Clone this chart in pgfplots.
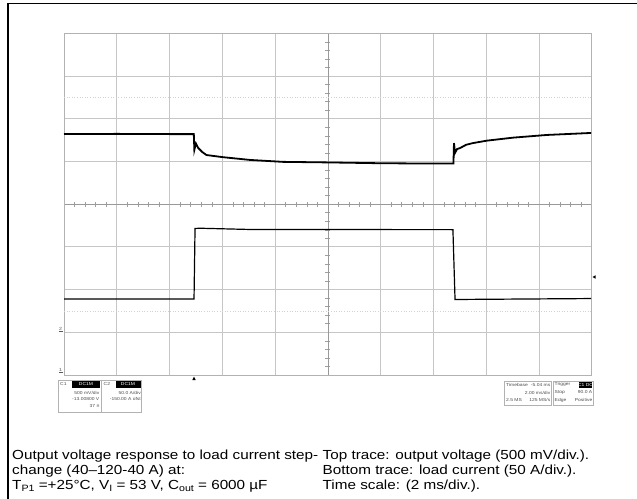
\documentclass[border=0pt]{standalone}
\usepackage{pgfplots}
\pgfplotsset{compat=1.18}
\usepackage{fontspec}
\setmainfont{Liberation Sans}[FakeStretch=1.16]
\newcommand\sub[1]{\raisebox{-0.35ex}{\fontsize{9.2}{9.2}\selectfont #1}}
\begin{document}
\begin{tikzpicture}
\begin{scope}[x=1bp,y=-1bp]
  \useasboundingbox (0,0) rectangle (637,499);
  % page frame
  \draw[line width=1.2bp] (8,499) -- (8,3.3) -- (637,3.3);
\end{scope}

\begin{axis}[
  at={(64bp,-375bp)}, anchor=south west,
  width=527.7bp, height=341.7bp, scale only axis,
  xmin=-5, xmax=5, ymin=-4, ymax=4,
  axis lines=center,
  axis line style={-, gray!80, line width=0.6bp},
  xtick={-5,...,5}, ytick={-4,...,4},
  minor x tick num=4, minor y tick num=4,
  xticklabels={}, yticklabels={},
  tick align=center,
  major tick length=0pt, minor tick length=5bp,
  minor tick style={gray!75, line width=0.5bp},
  grid=major,
  major grid style={gray!45, line width=0.8bp},
  clip=false,
]
  % outer graticule border
  \draw[gray!60, line width=0.9bp] (axis cs:-5,-4) rectangle (axis cs:5,4);
  % faint dotted rows
  \draw[gray!35, dotted, line width=0.6bp] (axis cs:-5,2.49) -- (axis cs:5,2.49);
  \draw[gray!35, dotted, line width=0.6bp] (axis cs:-5,-2.52) -- (axis cs:5,-2.52);

  % top trace: output voltage
  \addplot[black, line width=1.8bp] coordinates {
    (-5,1.64) (-4,1.645) (-3,1.64) (-2.54,1.64)
    (-2.53,1.27) (-2.50,1.42) (-2.46,1.32) (-2.38,1.22) (-2.30,1.15)
    (-1.99,1.10) (-1.475,1.035) (-0.85,0.99) (0,0.977) (0.99,0.958)
    (1.99,0.95) (2.38,0.95)
    (2.39,1.43) (2.41,1.20) (2.447,1.29) (2.50,1.31) (2.62,1.39)
    (2.75,1.43) (3.016,1.487) (3.51,1.557) (4.15,1.62) (4.99,1.667)
  };
  % bottom trace: load current
  \addplot[black, line width=1.2bp] coordinates {
    (-5,-2.22) (-2.536,-2.22) (-2.517,-0.569) (-2.42,-0.564)
    (-1.475,-0.593) (2.37,-0.597) (2.41,-2.232) (4.99,-2.21)
  };
\end{axis}

\begin{scope}[x=1bp,y=-1bp]
  % markers
  \fill (194,376.5) -- (192.3,380) -- (195.7,380) -- cycle;
  \fill (592.5,277) -- (595.5,275.3) -- (595.5,278.7) -- cycle;
  \node[font=\fontsize{4.5}{4.5}\selectfont, gray!70!black, inner sep=0] at (60.5,329) {2};
  \draw[gray!70!black, line width=0.8bp] (59,331.5) -- (63,331.5);
  \node[font=\fontsize{4.5}{4.5}\selectfont, gray!70!black, inner sep=0] at (60.5,370) {1};
  \draw[gray!70!black, line width=0.8bp] (59,372.5) -- (63,372.5);

  % left info boxes
  \begin{scope}[every node/.style={font=\fontsize{4.3}{4.3}\selectfont, inner sep=0, text=gray!60!black}]
    \draw[gray!60, line width=0.5bp] (58.3,380) rectangle (101,412.7);
    \draw[gray!60, line width=0.5bp] (101.7,380) rectangle (141.7,412.7);
    \fill[black] (72,381.3) rectangle (100,387.6);
    \fill[black] (116,381.3) rectangle (140.5,387.6);
    \node[anchor=west] at (60,384.5) {C1};
    \node[anchor=west] at (103.5,384.5) {C2};
    \node[text=white] at (86,384.5) {DC1M};
    \node[text=white] at (128,384.5) {DC1M};
    \node[anchor=east] at (99.5,392.7) {500 mV/div};
    \node[anchor=east] at (99.5,399.2) {-13.00800 V};
    \node[anchor=east] at (99.5,405.7) {37 \#};
    \node[anchor=east] at (141,392.7) {50.0 A/div};
    \node[anchor=east] at (141,399.2) {-150.00 A ofst};

    % right info boxes
    \draw[gray!60, line width=0.5bp] (504.5,381) rectangle (551.6,405);
    \draw[gray!60, line width=0.5bp] (553.2,381) rectangle (593.3,405);
    \fill[black] (579,382) rectangle (592.3,387.8);
    \node[anchor=west] at (506,384.8) {Timebase};
    \node[anchor=east] at (550.5,384.8) {-5.04 ms};
    \node[anchor=east] at (550.5,392.5) {2.00 ms/div};
    \node[anchor=west] at (506,400.3) {2.5 MS};
    \node[anchor=east] at (550.5,400.3) {125 MS/s};
    \node[anchor=west] at (554.5,384.8) {Trigger};
    \node[text=white] at (585.6,384.8) {C1 DC};
    \node[anchor=west] at (554.5,392.5) {Stop};
    \node[anchor=east] at (592.5,392.5) {90.0 A};
    \node[anchor=west] at (554.5,400.3) {Edge};
    \node[anchor=east] at (592.5,400.3) {Positive};
  \end{scope}

  % caption
  \begin{scope}[every node/.style={font=\fontsize{13.2}{13.2}\selectfont, inner sep=0, anchor=base west}]
    \node at (12,459.5) {Output voltage response to load current step-};
    \node at (12,474.5) {change (40–120-40 A) at:};
    \node at (12,489.5) {T\sub{P1} =+25°C, V\sub{I} = 53 V, C\sub{out} = 6000 µF};
    \node at (322.5,459.5) {Top trace: output voltage (500 mV/div.).};
    \node at (322.5,474.5) {Bottom trace: load current (50 A/div.).};
    \node at (322.5,489.5) {Time scale: (2 ms/div.).};
  \end{scope}
\end{scope}
\end{tikzpicture}
\end{document}
